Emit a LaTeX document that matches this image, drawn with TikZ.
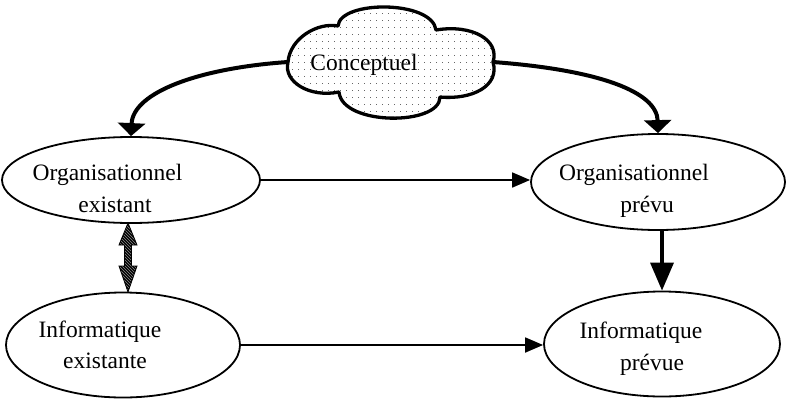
\documentclass[tikz,border=0pt]{standalone}
\usepackage{fontspec}
\setmainfont{Liberation Serif}
\usetikzlibrary{shapes.geometric, arrows.meta, patterns}

\pgfdeclarepatternformonly{clouddots}{\pgfpointorigin}{\pgfpoint{5.5pt}{6.5pt}}{\pgfpoint{5.5pt}{6.5pt}}{\pgfpathrectangle{\pgfpointorigin}{\pgfpoint{0.9pt}{0.9pt}}\pgfusepath{fill}}

\begin{document}
\begin{tikzpicture}[x=1pt,y=-1pt,
  ell/.style={ellipse, draw, line width=1.8pt, inner sep=0pt},
  lbl/.style={font=\fontsize{23.5}{28}\selectfont, anchor=base, inner sep=0pt},
  thinarrow/.style={line width=1.8pt, -{Triangle[width=15pt,length=18pt]}},
  curvearrow/.style={line width=4pt, -{Triangle[width=27pt,length=13pt]}},
  vertarrow/.style={line width=3.5pt, -{Triangle[width=23pt,length=28pt]}},
  hatchfill/.style={fill=black},
  hatchlines/.style={draw=black, line width=0.8pt, pattern=north west lines, pattern color=black!45}
]
\useasboundingbox (0,0) rectangle (789,399);

% cloud
\path[draw=black, line width=3.3pt, line join=round, pattern=clouddots, pattern color=black!60]
  (338,26) .. controls (340,0) and (432,0) .. (436,30)
  .. controls (472,24) and (500,40) .. (493,62)
  .. controls (500,86) and (472,100) .. (440,97)
  .. controls (440,126) and (342,126) .. (339,92)
  .. controls (310,98) and (283,82) .. (288,62)
  .. controls (290,38) and (318,22) .. (338,26) -- cycle;
\coordinate (cl) at (288,62);
\coordinate (cr) at (493,62);
\node[lbl] (t9) at (364,70) {Conceptuel};

% ellipses
\node[ell, minimum width=258pt, minimum height=86pt] (A) at (131,180) {};
\node[ell, minimum width=254pt, minimum height=96pt] (B) at (658,182) {};
\node[ell, minimum width=234pt, minimum height=105pt] (C) at (123,345) {};
\node[ell, minimum width=236pt, minimum height=105pt] (D) at (662,344) {};

% labels
\node[lbl] (t1) at (107.5,180) {Organisationnel};
\node[lbl] (t2) at (115,212) {existant};
\node[lbl] (t3) at (634,180) {Organisationnel};
\node[lbl] (t4) at (647,212) {prévu};
\node[lbl] (t5) at (100,337) {Informatique};
\node[lbl] (t6) at (105,368) {existante};
\node[lbl] (t7) at (641,338) {Informatique};
\node[lbl] (t8) at (652,370) {prévue};

% connectors
\draw[curvearrow] (cl) .. controls (200,68) and (133,92) .. (A.north);
\draw[curvearrow] (cr) .. controls (600,70) and (657,92) .. (B.north);
\draw[thinarrow] (A.east) -- (A.east -| B.west);
\draw[thinarrow] (C.east) -- (C.east -| D.west);
\draw[vertarrow] (D.north |- B.south) -- (D.north);

% hatched double arrow
\coordinate (dt) at (128,223);
\coordinate (db) at (128,292);
\path[hatchfill] (dt) -- ++(9,22) -- ++(-5.5,0) -- ++(0,21) -- ++(5.5,0) -- (db)
  -- ++(-9,-26) -- ++(5.5,0) -- ++(0,-21) -- ++(-5.5,0) -- cycle;
\path[hatchlines] (dt) -- ++(9,22) -- ++(-5.5,0) -- ++(0,21) -- ++(5.5,0) -- (db)
  -- ++(-9,-26) -- ++(5.5,0) -- ++(0,-21) -- ++(-5.5,0) -- cycle;
\end{tikzpicture}
\end{document}
